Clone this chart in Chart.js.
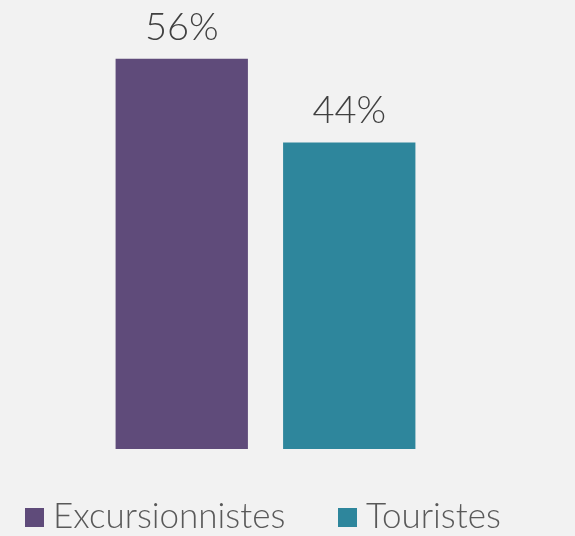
<!DOCTYPE html>
<html><head><meta charset="utf-8">
<script src="https://cdn.jsdelivr.net/npm/chart.js@4/dist/chart.umd.min.js"></script>
<style>html,body{margin:0;padding:0;background:#f2f2f2;}#wrap{width:575px;height:536px;}</style>
</head><body><div id="wrap"><canvas id="c"></canvas></div>
<script>
const categories = ["Excursionnistes", "Touristes"];
const values = [56, 44];
const colors = ["#5f4b7a", "#2e869c"];
const valueLabels = ["56%", "44%"];

const labelPlugin = {
  id: 'valLabels',
  afterDatasetsDraw(chart) {
    const ctx = chart.ctx;
    const meta = chart.getDatasetMeta(0);
    ctx.save();
    ctx.fillStyle = '#404040';
    ctx.font = '300 38px Lato, "DejaVu Sans", sans-serif';
    ctx.textAlign = 'center';
    ctx.textBaseline = 'alphabetic';
    meta.data.forEach((el, i) => {
      ctx.fillText(valueLabels[i], el.x, el.y - 19);
    });
    ctx.restore();
  }
};

const legendPlugin = {
  id: 'customLegend',
  afterDraw(chart) {
    const ctx = chart.ctx;
    ctx.save();
    ctx.font = '300 35px Lato, "DejaVu Sans", sans-serif';
    ctx.textBaseline = 'alphabetic';
    ctx.textAlign = 'left';
    const box = 19, gapBoxText = 9;
    // item slots: first item starts near left edge, second at ~59% of width
    const starts = [25, 338];
    const baseline = 528;
    categories.forEach((c, i) => {
      let x = starts[i];
      ctx.fillStyle = colors[i];
      ctx.fillRect(x, baseline - 20, box, box);
      x += box + gapBoxText;
      ctx.fillStyle = '#595959';
      ctx.fillText(c, x, baseline);
    });
    ctx.restore();
  }
};

new Chart(document.getElementById('c'), {
  type: 'bar',
  data: {
    labels: categories,
    datasets: [{ data: values, backgroundColor: colors, barPercentage: 0.79, categoryPercentage: 1.0 }]
  },
  options: {
    responsive: true,
    maintainAspectRatio: false,
    animation: false,
    layout: { padding: { left: 98, right: 142, top: 31, bottom: 87 } },
    scales: {
      x: { display: false },
      y: { display: false, min: 0, max: 60 }
    },
    plugins: {
      tooltip: { enabled: false },
      legend: { display: false }
    }
  },
  plugins: [labelPlugin, legendPlugin]
});
</script>
</body></html>
